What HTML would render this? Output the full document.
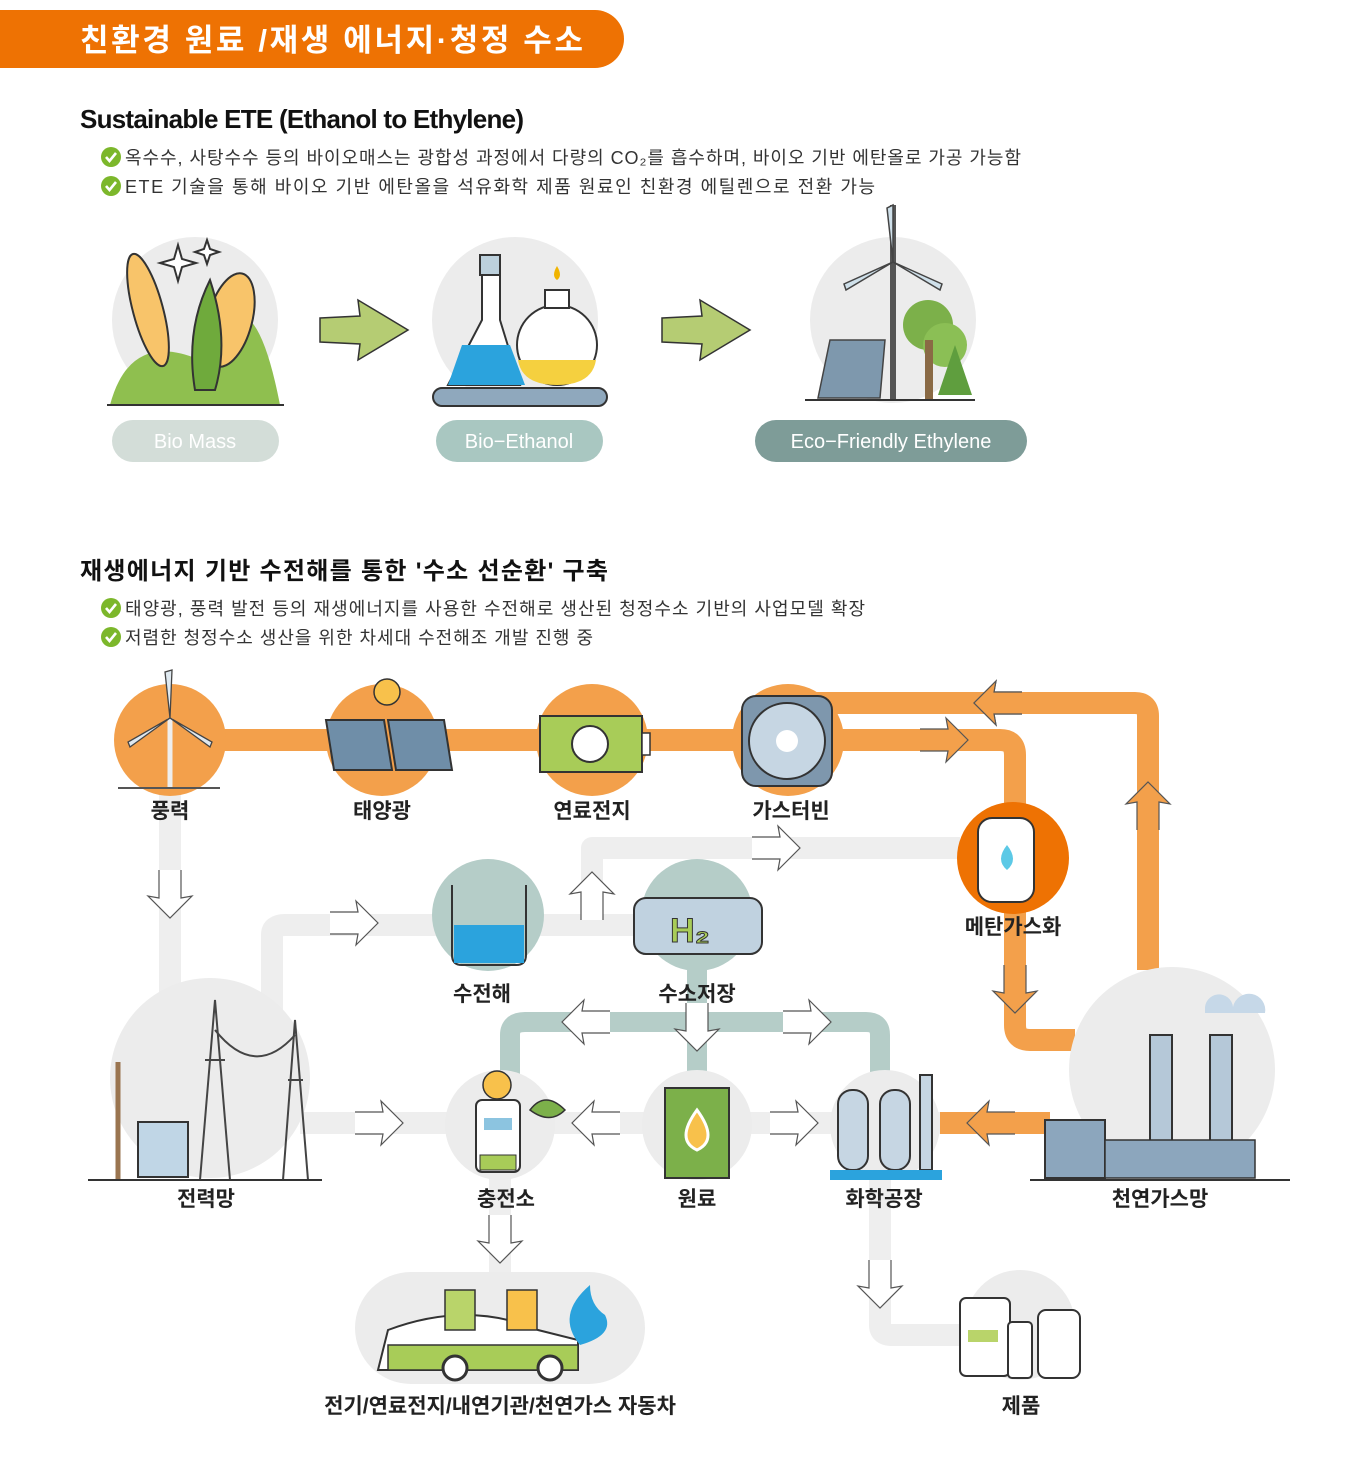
<!DOCTYPE html>
<html><head><meta charset="utf-8"><style>
html,body{margin:0;padding:0;background:#fff}
svg{display:block}
text{font-family:"Liberation Sans","Noto Sans CJK KR",sans-serif}
.lb{font-size:21px;font-weight:bold;fill:#222;text-anchor:middle}
.bt{font-size:18px;fill:#333}
</style></head><body>
<svg width="1369" height="1479" viewBox="0 0 1369 1479" xmlns="http://www.w3.org/2000/svg">
<defs>
<g id="chk"><circle r="10" fill="#7cb72b"/><path d="M-5 0 L-1.5 4 L5 -4" stroke="#fff" stroke-width="2.6" fill="none"/></g>
<g id="ga"><path d="M0 -11 L28 -11 L26 -22 L48 0 L26 22 L28 11 L0 11" fill="#fff" stroke="#555" stroke-width="1.2"/></g>
</defs>
<!-- header -->
<path d="M0 10 H595 A29 29 0 0 1 595 68 H0 Z" fill="#ee7203"/>
<text x="80" y="51" font-size="31" font-weight="bold" fill="#fff" textLength="503">친환경 원료 /재생 에너지·청정 수소</text>
<text x="80" y="128" font-size="26" font-weight="bold" fill="#111" textLength="444">Sustainable ETE (Ethanol to Ethylene)</text>
<use href="#chk" x="111" y="157"/><text class="bt" x="125" y="164" textLength="896">옥수수, 사탕수수 등의 바이오매스는 광합성 과정에서 다량의 CO₂를 흡수하며, 바이오 기반 에탄올로 가공 가능함</text>
<use href="#chk" x="111" y="186"/><text class="bt" x="125" y="193" textLength="750">ETE 기술을 통해 바이오 기반 에탄올을 석유화학 제품 원료인 친환경 에틸렌으로 전환 가능</text>
<!-- top section -->
<circle cx="195" cy="320" r="83" fill="#ececec"/>
<circle cx="515" cy="320" r="83" fill="#ececec"/>
<circle cx="893" cy="320" r="83" fill="#ececec"/>
<path d="M110 405 Q130 330 200 360 Q250 250 280 405 Z" fill="#8fbf4f"/>
<ellipse cx="148" cy="310" rx="15" ry="58" fill="#f8c46a" stroke="#333" stroke-width="2" transform="rotate(-15 148 310)"/>
<ellipse cx="230" cy="320" rx="22" ry="48" fill="#f8c46a" stroke="#333" stroke-width="2" transform="rotate(15 230 320)"/>
<path d="M195 390 Q185 330 210 280 Q230 340 215 390 Z" fill="#6faa3c" stroke="#333" stroke-width="2"/>
<line x1="107" y1="405" x2="284" y2="405" stroke="#333" stroke-width="2"/>
<path d="M178 245 l4 14 14 4 -14 4 -4 14 -4 -14 -14 -4 14 -4z M207 240 l3 9 9 3 -9 3 -3 9 -3 -9 -9 -3 9 -3z" fill="#fff" stroke="#333" stroke-width="2"/>
<rect x="433" y="388" width="174" height="18" rx="9" fill="#8fa8bd" stroke="#333" stroke-width="2"/>
<path d="M482 275 V320 L448 385 H520 L500 320 V275 Z" fill="#fff" stroke="#333" stroke-width="2"/>
<path d="M462 345 H510 L525 385 H448 Z" fill="#2ba3dd"/>
<rect x="480" y="255" width="20" height="20" fill="#bcd0dc" stroke="#333" stroke-width="2"/>
<circle cx="557" cy="345" r="40" fill="#fff" stroke="#333" stroke-width="2"/>
<path d="M518 360 H596 Q592 385 557 385 Q522 385 518 360Z" fill="#f5d03f"/>
<rect x="545" y="290" width="24" height="18" fill="#fff" stroke="#333" stroke-width="2"/>
<path d="M557 266 q-6 10 0 14 q6 -4 0 -14z" fill="#f0b400"/>
<line x1="893" y1="205" x2="893" y2="400" stroke="#555" stroke-width="6"/>
<path d="M893 262 L887 208 L893 205 Z M893 262 L940 290 L942 284Z M893 262 L846 290 L844 284Z" fill="#cfe0ea" stroke="#444" stroke-width="1.5"/>
<path d="M830 340 H885 L880 398 H818 Z" fill="#7e98ad" stroke="#444" stroke-width="1.5"/>
<circle cx="928" cy="325" r="25" fill="#7cb04a"/><circle cx="945" cy="345" r="22" fill="#8bbf55"/>
<rect x="925" y="340" width="8" height="60" fill="#8a6a45"/>
<path d="M955 345 L972 395 H938 Z" fill="#5f9e3e"/>
<line x1="805" y1="400" x2="975" y2="400" stroke="#333" stroke-width="2"/>
<g transform="translate(320 330)"><path d="M0 -12 L40 -14 L38 -30 L88 0 L38 30 L40 14 L0 12Z" fill="#b5cc73" stroke="#333" stroke-width="1.5"/></g>
<g transform="translate(662 330)"><path d="M0 -12 L40 -14 L38 -30 L88 0 L38 30 L40 14 L0 12Z" fill="#b5cc73" stroke="#333" stroke-width="1.5"/></g>
<rect x="112" y="420" width="167" height="42" rx="21" fill="#d3ddd8"/>
<text x="195" y="448" font-size="20" fill="#fff" text-anchor="middle">Bio Mass</text>
<rect x="436" y="420" width="167" height="42" rx="21" fill="#a9c7c1"/>
<text x="519" y="448" font-size="20" fill="#fff" text-anchor="middle">Bio−Ethanol</text>
<rect x="755" y="420" width="272" height="42" rx="21" fill="#7e9c98"/>
<text x="891" y="448" font-size="20" fill="#fff" text-anchor="middle">Eco−Friendly Ethylene</text>
<!-- section 2 -->
<text x="80" y="579" font-size="24" font-weight="bold" fill="#111" textLength="528">재생에너지 기반 수전해를 통한 '수소 선순환' 구축</text>
<use href="#chk" x="111" y="608"/><text class="bt" x="125" y="615" textLength="740">태양광, 풍력 발전 등의 재생에너지를 사용한 수전해로 생산된 청정수소 기반의 사업모델 확장</text>
<use href="#chk" x="111" y="637"/><text class="bt" x="125" y="644" textLength="468">저렴한 청정수소 생산을 위한 차세대 수전해조 개발 진행 중</text>
<!-- gray connectors -->
<g fill="none" stroke="#eeeeee" stroke-width="22" stroke-linejoin="round">
<path d="M170 790 V1000"/>
<path d="M272 1100 V935 Q272 925 285 925 H640"/>
<path d="M592 920 V848 H960"/>
<path d="M300 1123 H940"/>
<path d="M500 1175 V1275"/>
<path d="M880 1175 V1325 Q880 1335 892 1335 H965"/>
</g>
<!-- teal connectors -->
<g fill="none" stroke="#b5cdc8" stroke-width="20" stroke-linejoin="round">
<path d="M510 1080 V1035 Q510 1022 525 1022 H866 Q880 1022 880 1035 V1080"/>
<path d="M697 960 V1080"/>
</g>
<!-- orange connectors -->
<g fill="none" stroke="#f3a04b" stroke-width="22" stroke-linejoin="round">
<path d="M170 740 H800"/>
<path d="M790 740 H1000 Q1015 740 1015 755 V1025 Q1015 1040 1030 1040 H1075"/>
<path d="M800 703 H1135 Q1148 703 1148 716 V970"/>
<path d="M940 1123 H1050"/>
</g>
<!-- gray circles -->
<circle cx="210" cy="1078" r="100" fill="#ececec"/>
<circle cx="1172" cy="1070" r="103" fill="#ececec"/>
<circle cx="500" cy="1125" r="55" fill="#ececec"/>
<circle cx="697" cy="1125" r="55" fill="#ececec"/>
<circle cx="885" cy="1125" r="55" fill="#ececec"/>
<circle cx="1020" cy="1325" r="55" fill="#ececec"/>
<rect x="355" y="1272" width="290" height="112" rx="56" fill="#ececec"/>
<!-- orange / teal circles -->
<circle cx="170" cy="740" r="56" fill="#f3a04b"/>
<circle cx="382" cy="740" r="56" fill="#f3a04b"/>
<circle cx="592" cy="740" r="56" fill="#f3a04b"/>
<circle cx="788" cy="740" r="56" fill="#f3a04b"/>
<circle cx="1013" cy="858" r="56" fill="#ee7203"/>
<circle cx="488" cy="915" r="56" fill="#b5cdc8"/>
<circle cx="697" cy="915" r="56" fill="#b5cdc8"/>
<!-- arrows -->
<g fill="#fff" stroke="#666" stroke-width="1.2">
<g transform="translate(170 870) rotate(90)"><use href="#ga"/></g>
<g transform="translate(330 923)"><use href="#ga"/></g>
<g transform="translate(592 920) rotate(-90)"><use href="#ga"/></g>
<g transform="translate(752 848)"><use href="#ga"/></g>
<g transform="translate(355 1123)"><use href="#ga"/></g>
<g transform="translate(620 1123) rotate(180)"><use href="#ga"/></g>
<g transform="translate(770 1123)"><use href="#ga"/></g>
<g transform="translate(500 1215) rotate(90)"><use href="#ga"/></g>
<g transform="translate(880 1260) rotate(90)"><use href="#ga"/></g>
<g transform="translate(610 1022) rotate(180)"><use href="#ga"/></g>
<g transform="translate(783 1022)"><use href="#ga"/></g>
<g transform="translate(697 1003) rotate(90)"><use href="#ga"/></g>
</g>
<g fill="#f3a04b" stroke="#555" stroke-width="1.2">
<g transform="translate(1022 703) rotate(180)"><use href="#ga" style="fill:#f3a04b"/></g>
<g transform="translate(920 740)"><path d="M0 -11 L28 -11 L26 -22 L48 0 L26 22 L28 11 L0 11" fill="#f3a04b"/></g>
<g transform="translate(1148 830) rotate(-90)"><path d="M0 -11 L28 -11 L26 -22 L48 0 L26 22 L28 11 L0 11" fill="#f3a04b"/></g>
<g transform="translate(1015 965) rotate(90)"><path d="M0 -11 L28 -11 L26 -22 L48 0 L26 22 L28 11 L0 11" fill="#f3a04b"/></g>
<g transform="translate(1015 1123) rotate(180)"><path d="M0 -11 L28 -11 L26 -22 L48 0 L26 22 L28 11 L0 11" fill="#f3a04b"/></g>
<g transform="translate(1022 703) rotate(180)"><path d="M0 -11 L28 -11 L26 -22 L48 0 L26 22 L28 11 L0 11" fill="#f3a04b"/></g>
</g>
<!-- icons -->
<line x1="170" y1="718" x2="170" y2="788" stroke="#eee" stroke-width="5"/>
<path d="M170 718 L165 672 L172 670 Z M170 718 L212 742 L210 747Z M170 718 L128 742 L130 747Z" fill="#dfe9f0" stroke="#444" stroke-width="1.3"/>
<line x1="118" y1="788" x2="220" y2="788" stroke="#555" stroke-width="2"/>
<path d="M326 720 H384 L392 770 H334Z M388 720 H444 L452 770 H396Z" fill="#6f8ea8" stroke="#333" stroke-width="2"/>
<circle cx="387" cy="692" r="13" fill="#f8c14b" stroke="#333" stroke-width="1.5"/>
<rect x="540" y="716" width="102" height="56" fill="#a8cc58" stroke="#333" stroke-width="2"/>
<rect x="642" y="733" width="8" height="22" fill="#fff" stroke="#333" stroke-width="1.5"/>
<circle cx="590" cy="744" r="18" fill="#fff" stroke="#333" stroke-width="2"/>
<rect x="742" y="696" width="90" height="90" rx="14" fill="#7e97ad" stroke="#333" stroke-width="2"/>
<circle cx="787" cy="741" r="38" fill="#c6d6e3" stroke="#333" stroke-width="2"/>
<circle cx="787" cy="741" r="11" fill="#fff"/>
<rect x="978" y="818" width="56" height="84" rx="14" fill="#fff" stroke="#333" stroke-width="2"/>
<path d="M1007 845 q-12 15 0 25 q12 -10 0 -25z" fill="#5cc9e6"/>
<path d="M452 885 V955 Q452 965 462 965 H516 Q526 965 526 955 V885" fill="none" stroke="#333" stroke-width="2"/>
<rect x="454" y="925" width="70" height="38" fill="#2ba3dd"/>
<rect x="634" y="898" width="128" height="56" rx="12" fill="#c0d2e0" stroke="#333" stroke-width="2"/>
<text x="690" y="942" font-size="34" font-weight="bold" fill="#a8cc58" stroke="#333" stroke-width="1" text-anchor="middle">H₂</text>
<g stroke="#444" stroke-width="2" fill="none">
<path d="M200 1180 L215 1000 L230 1180 M283 1180 L295 1020 L308 1180 M205 1060 H225 M288 1080 H303"/>
<path d="M215 1030 Q255 1080 295 1035"/>
<line x1="118" y1="1062" x2="118" y2="1180" stroke="#9a7550" stroke-width="5"/>
</g>
<rect x="138" y="1122" width="50" height="55" fill="#c0d6e6" stroke="#333" stroke-width="2"/>
<line x1="88" y1="1180" x2="322" y2="1180" stroke="#333" stroke-width="2"/>
<rect x="476" y="1100" width="44" height="72" rx="6" fill="#fff" stroke="#333" stroke-width="2"/>
<rect x="484" y="1118" width="28" height="12" fill="#8cc4e0"/>
<rect x="480" y="1155" width="36" height="15" fill="#a8cc58" stroke="#333"/>
<circle cx="497" cy="1085" r="14" fill="#f8c14b" stroke="#333" stroke-width="1.5"/>
<path d="M530 1110 q15 -20 35 0 q-15 15 -35 0z" fill="#7cb04a" stroke="#333" stroke-width="1.5"/>
<rect x="665" y="1088" width="64" height="90" fill="#7cb04a" stroke="#333" stroke-width="2"/>
<path d="M697 1110 q-22 30 0 40 q22 -10 0 -40z" fill="#f8c14b" stroke="#fff" stroke-width="3"/>
<rect x="838" y="1090" width="30" height="80" rx="14" fill="#c6d6e3" stroke="#333" stroke-width="2"/>
<rect x="880" y="1090" width="30" height="80" rx="14" fill="#c6d6e3" stroke="#333" stroke-width="2"/>
<rect x="920" y="1075" width="12" height="95" fill="#c6d6e3" stroke="#333" stroke-width="2"/>
<rect x="830" y="1170" width="112" height="10" fill="#2ba3dd"/>
<rect x="1045" y="1120" width="60" height="58" fill="#8ca6bd" stroke="#333" stroke-width="2"/>
<rect x="1150" y="1035" width="22" height="140" fill="#b5c8d8" stroke="#333" stroke-width="2"/>
<rect x="1210" y="1035" width="22" height="140" fill="#b5c8d8" stroke="#333" stroke-width="2"/>
<rect x="1105" y="1140" width="150" height="38" fill="#8ca6bd" stroke="#333" stroke-width="1.5"/>
<path d="M1205 1010 a14 14 0 0 1 28 -3 a10 10 0 0 1 32 6 H1205Z" fill="#c6d8e8"/>
<line x1="1030" y1="1180" x2="1290" y2="1180" stroke="#333" stroke-width="2"/>
<path d="M388 1330 q80 -30 150 0 l40 10 v30 h-200z" fill="#fff" stroke="#333" stroke-width="2"/>
<rect x="388" y="1345" width="190" height="25" fill="#a8cc58" stroke="#333" stroke-width="1.5"/>
<circle cx="455" cy="1368" r="12" fill="#fff" stroke="#333" stroke-width="3"/>
<circle cx="550" cy="1368" r="12" fill="#fff" stroke="#333" stroke-width="3"/>
<rect x="445" y="1290" width="30" height="40" fill="#b9d46a" stroke="#333" stroke-width="1.5"/>
<rect x="507" y="1290" width="30" height="40" fill="#f8c14b" stroke="#333" stroke-width="1.5"/>
<path d="M580 1345 q-25 -30 10 -60 q0 20 15 30 q10 20 -25 30z" fill="#2ba3dd"/>
<rect x="960" y="1298" width="50" height="78" rx="6" fill="#fff" stroke="#333" stroke-width="2"/>
<rect x="1008" y="1322" width="24" height="56" rx="4" fill="#fff" stroke="#333" stroke-width="2"/>
<rect x="1038" y="1310" width="42" height="68" rx="8" fill="#fff" stroke="#333" stroke-width="2"/>
<rect x="968" y="1330" width="30" height="12" fill="#b9d46a"/>
<!-- labels -->
<text class="lb" x="170" y="818">풍력</text>
<text class="lb" x="382" y="818">태양광</text>
<text class="lb" x="592" y="818">연료전지</text>
<text class="lb" x="791" y="818">가스터빈</text>
<text class="lb" x="1013" y="934">메탄가스화</text>
<text class="lb" x="482" y="1001">수전해</text>
<text class="lb" x="697" y="1001">수소저장</text>
<text class="lb" x="206" y="1206">전력망</text>
<text class="lb" x="506" y="1206">충전소</text>
<text class="lb" x="697" y="1206">원료</text>
<text class="lb" x="884" y="1206">화학공장</text>
<text class="lb" x="1160" y="1206">천연가스망</text>
<text class="lb" x="500" y="1413">전기/연료전지/내연기관/천연가스 자동차</text>
<text class="lb" x="1021" y="1413">제품</text>
</svg>
</body></html>
